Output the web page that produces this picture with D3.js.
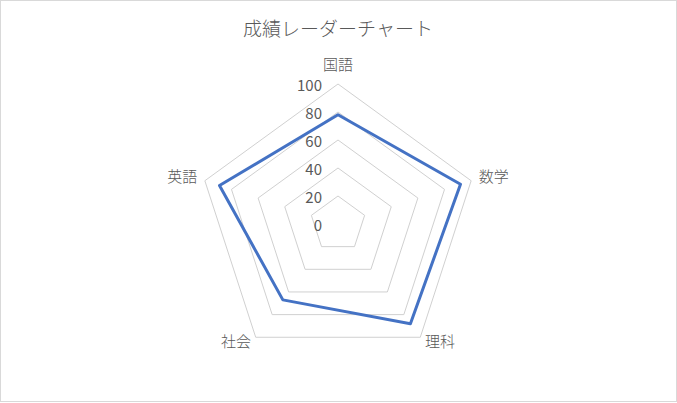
<!DOCTYPE html>
<html>

<script src="https://cdn.jsdelivr.net/npm/d3@7/dist/d3.min.js"></script>

<style>

  body, html {
    padding: 0;
    margin: 0;
    background: #fff;
  }

  svg {
    display: block;
    font-family: "Noto Sans CJK JP", "Noto Sans", sans-serif;
    font-weight: 300;
  }

</style>

<body>
  <svg width="677" height="403"></svg>

	<script>

    // chart data
    var title = '成績レーダーチャート';
    var subjects = ['国語', '数学', '理科', '社会', '英語'];
    var scores = [78, 92, 88, 67, 89];
    var ticks = [0, 20, 40, 60, 80, 100];

    var width = 677, height = 403;
    var cx = 338, cy = 224, R = 140;

    var svg = d3.select('svg');

    // outer frame
    svg.append('rect')
        .attr('x', 0.5)
        .attr('y', 0.5)
        .attr('width', width - 1)
        .attr('height', height - 2)
        .style('fill', '#fff')
        .style('stroke', '#d9d9d9');

    svg.append('text')
        .attr('x', cx)
        .attr('y', 27)
        .attr('text-anchor', 'middle')
        .attr('dominant-baseline', 'central')
        .style('font-size', '19px')
        .style('fill', '#595959')
        .text(title);

    var r = d3.scaleLinear().domain([0, 100]).range([0, R]);
    var angle = d3.scalePoint()
        .domain(subjects)
        .range([0, 2 * Math.PI * (subjects.length - 1) / subjects.length]);

    var g = svg.append('g').attr('transform', 'translate(' + cx + ',' + cy + ')');

    function point(a, rad) {
      return [Math.sin(a) * rad, -Math.cos(a) * rad];
    }

    // grid rings
    var ring = d3.line().curve(d3.curveLinearClosed);

    g.selectAll('path.grid')
      .data(ticks.filter(function (t) { return t > 0; }))
      .enter()
      .append('path')
        .attr('class', 'grid')
        .attr('d', function (t) {
          return ring(subjects.map(function (s) { return point(angle(s), r(t)); }));
        })
        .style('fill', 'none')
        .style('stroke', '#d0d0d0')
        .style('stroke-width', 1);

    // tick labels
    g.selectAll('text.tick')
      .data(ticks)
      .enter()
      .append('text')
        .attr('class', 'tick')
        .attr('x', -16)
        .attr('y', function (t) { return -r(t); })
        .attr('text-anchor', 'end')
        .attr('dominant-baseline', 'central')
        .style('font-size', '15px')
        .style('font-weight', 400)
        .style('fill', '#595959')
        .text(function (t) { return t; });

    // category labels
    g.selectAll('text.cat')
      .data(subjects)
      .enter()
      .append('text')
        .attr('class', 'cat')
        .attr('x', function (s) {
          var a = angle(s);
          return point(a, R + (a === 0 ? 21 : 8))[0];
        })
        .attr('y', function (s) {
          var a = angle(s);
          return point(a, R + (a === 0 ? 21 : 8))[1] - (a === 0 ? 0 : 3);
        })
        .attr('text-anchor', function (s) {
          var x = Math.sin(angle(s));
          return Math.abs(x) < 0.01 ? 'middle' : (x > 0 ? 'start' : 'end');
        })
        .attr('dominant-baseline', 'central')
        .style('font-size', '15px')
        .style('fill', '#595959')
        .text(function (s) { return s; });

    // data series
    g.append('path')
        .datum(subjects.map(function (s, i) { return point(angle(s), r(scores[i])); }))
        .attr('d', ring)
        .style('fill', 'none')
        .style('stroke', '#4472c4')
        .style('stroke-width', 3)
        .style('stroke-linejoin', 'round');

	</script>
</body>
</html>
